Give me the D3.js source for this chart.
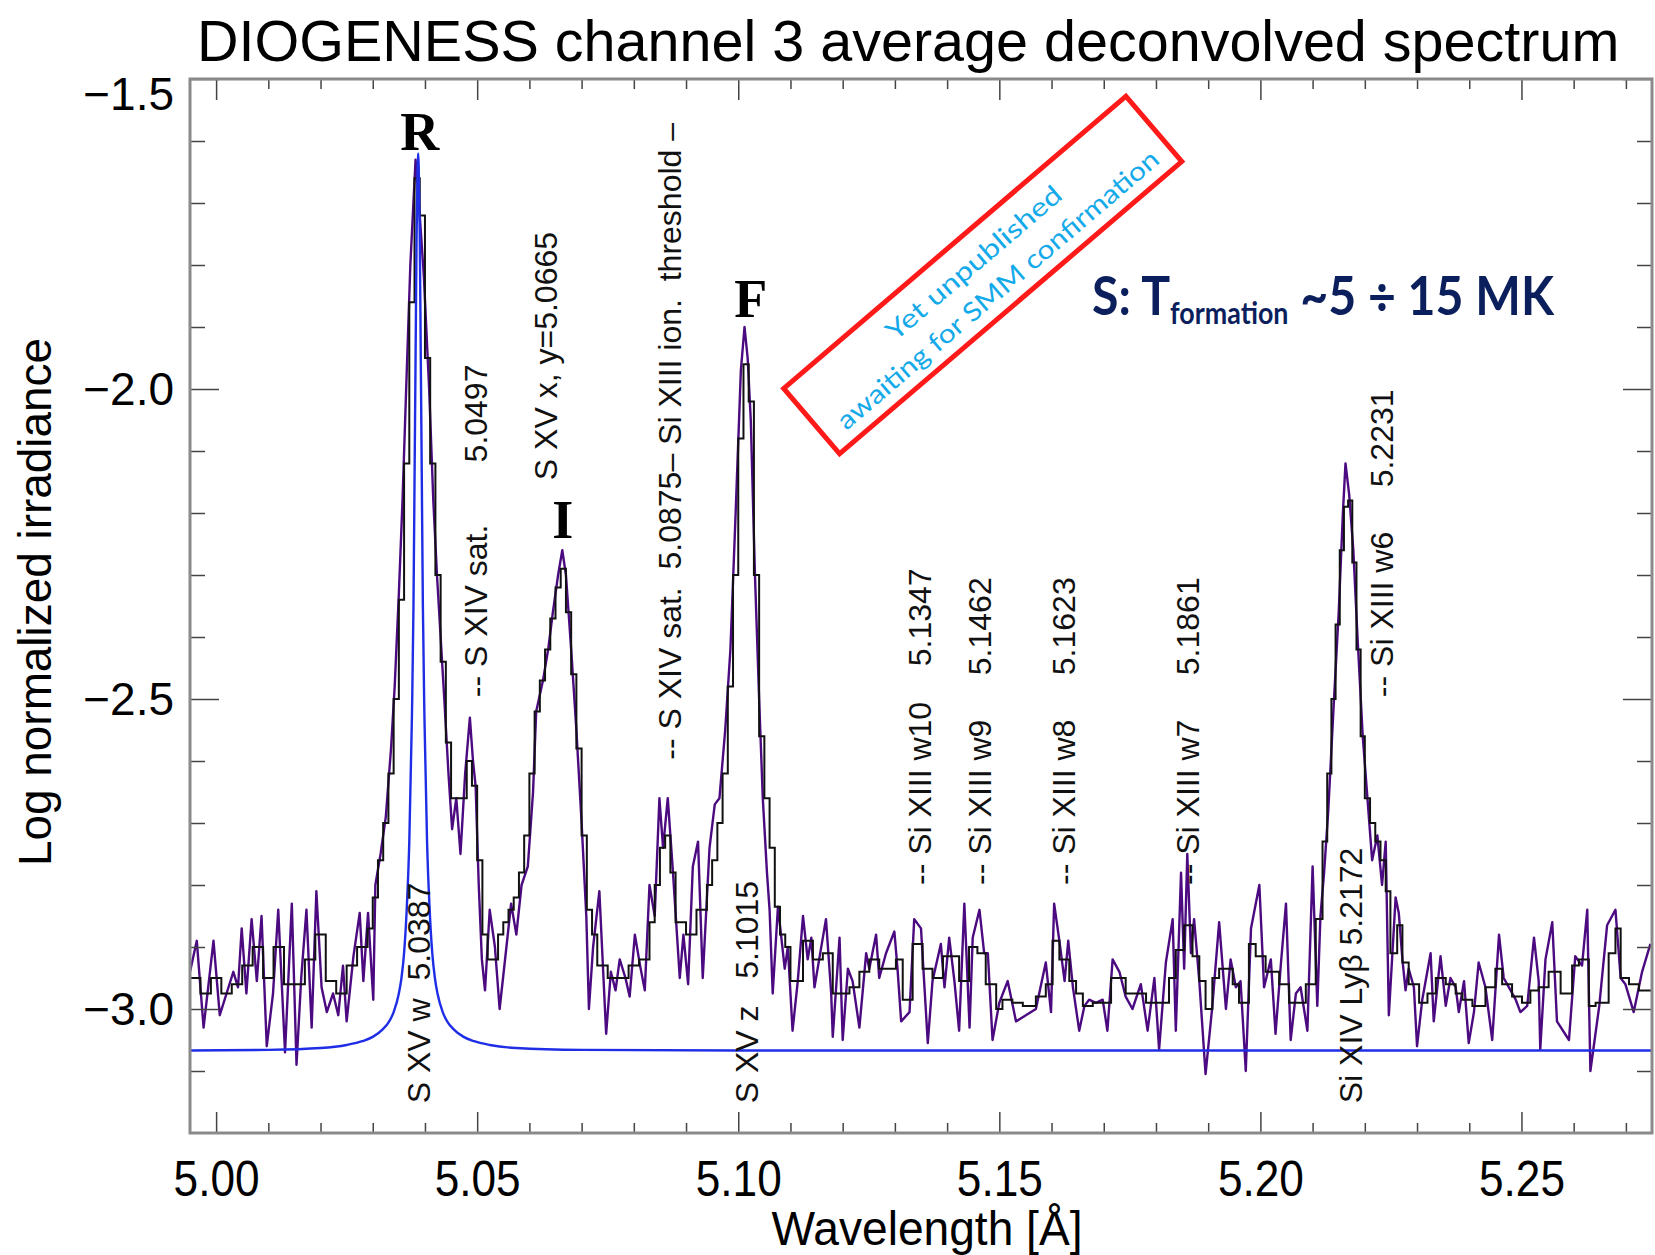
<!DOCTYPE html>
<html><head><meta charset="utf-8">
<script src="https://cdn.jsdelivr.net/npm/d3@7"></script>
<style>
body{margin:0;background:#fff}
svg{display:block}
</style>
</head><body>
<svg id="c" width="1655" height="1255" font-family="Liberation Sans, Arial, Helvetica, sans-serif"></svg>
<script>
// ---------------- data ----------------
const chartTitle = "DIOGENESS channel 3 average deconvolved spectrum";
const xAxisTitle = "Wavelength [Å]";
const yAxisTitle = "Log normalized irradiance";
const xDomain = [4.995, 5.275];
const yDomain = [-3.2, -1.5];
const xTicks = [5.00, 5.05, 5.10, 5.15, 5.20, 5.25];
const xTickLabels = ["5.00", "5.05", "5.10", "5.15", "5.20", "5.25"];
const yTicks = [-3.0, -2.5, -2.0, -1.5];
const yTickLabels = ["\u22123.0", "\u22122.5", "\u22122.0", "\u22121.5"];

// purple: high-resolution deconvolved spectrum [wavelength Å, log irradiance]
const purpleSpectrum = [
[4.9950,-2.94],[4.9963,-2.89],[4.9976,-3.03],[4.9995,-2.89],[5.0007,-3.01],[5.0020,-2.975],[5.0033,-2.94],[5.0042,-2.965],[5.0049,-2.87],[5.0058,-2.975],
[5.0068,-2.855],[5.0078,-2.955],[5.0087,-2.85],[5.0097,-3.06],[5.0109,-2.975],[5.0119,-2.84],[5.0132,-3.07],[5.0145,-2.83],[5.0154,-3.09],[5.0163,-2.95],
[5.0173,-2.84],[5.0183,-3.03],[5.0192,-2.81],[5.0202,-2.965],[5.0212,-3.005],[5.0224,-2.975],[5.0234,-3.01],[5.0243,-2.93],[5.0250,-3.02],[5.0263,-2.915],
[5.0275,-2.845],[5.0282,-2.955],[5.0291,-2.845],[5.0301,-2.985],[5.0305,-2.80],[5.0315,-2.75],[5.0325,-2.69],[5.0335,-2.58],[5.0342,-2.48],[5.0350,-2.33],
[5.0357,-2.18],[5.0364,-2.00],[5.0372,-1.80],[5.0382,-1.63],[5.0390,-1.72],[5.0398,-1.82],[5.0408,-2.00],[5.0416,-2.18],[5.0423,-2.30],[5.0437,-2.50],
[5.0445,-2.62],[5.0452,-2.71],[5.0460,-2.66],[5.0468,-2.75],[5.0477,-2.62],[5.0486,-2.53],[5.0492,-2.60],[5.0497,-2.64],[5.0503,-2.80],[5.0509,-2.92],
[5.0515,-2.97],[5.0524,-2.84],[5.0534,-2.90],[5.0543,-3.00],[5.0556,-2.90],[5.0565,-2.83],[5.0575,-2.88],[5.0585,-2.80],[5.0597,-2.77],[5.0607,-2.65],
[5.0613,-2.52],[5.0626,-2.47],[5.0636,-2.42],[5.0645,-2.36],[5.0655,-2.30],[5.0663,-2.26],[5.0670,-2.30],[5.0680,-2.42],[5.0690,-2.55],[5.0700,-2.70],
[5.0709,-2.85],[5.0714,-3.00],[5.0722,-2.90],[5.0734,-2.81],[5.0747,-3.04],[5.0756,-2.94],[5.0765,-2.97],[5.0773,-2.92],[5.0784,-2.95],[5.0792,-2.98],
[5.0802,-2.88],[5.0812,-2.93],[5.0821,-2.97],[5.0830,-2.80],[5.0840,-2.85],[5.0849,-2.66],[5.0856,-2.74],[5.0865,-2.66],[5.0875,-2.78],[5.0888,-2.95],
[5.0895,-2.88],[5.0904,-2.96],[5.0913,-2.77],[5.0923,-2.73],[5.0932,-2.95],[5.0945,-2.74],[5.0955,-2.67],[5.0964,-2.66],[5.0975,-2.55],[5.0985,-2.42],
[5.0995,-2.20],[5.1005,-1.97],[5.1012,-1.90],[5.1018,-1.95],[5.1024,-2.05],[5.1032,-2.30],[5.1040,-2.50],[5.1047,-2.66],[5.1055,-2.78],[5.1060,-2.84],
[5.1066,-2.975],[5.1076,-2.835],[5.1089,-2.935],[5.1095,-2.90],[5.1104,-3.035],[5.1114,-2.955],[5.1124,-2.85],[5.1133,-2.92],[5.1140,-2.885],[5.1146,-2.965],
[5.1155,-2.92],[5.1168,-2.855],[5.1178,-2.975],[5.1181,-3.045],[5.1194,-2.885],[5.1200,-3.05],[5.1210,-2.935],[5.1219,-2.955],[5.1232,-3.03],[5.1245,-2.91],
[5.1251,-2.935],[5.1264,-2.88],[5.1270,-2.95],[5.1283,-2.91],[5.1299,-2.875],[5.1305,-2.935],[5.1312,-3.02],[5.1328,-3.005],[5.1337,-2.855],[5.1350,-2.87],
[5.1363,-3.055],[5.1372,-2.955],[5.1388,-2.895],[5.1395,-2.965],[5.1404,-2.885],[5.1414,-2.955],[5.1423,-3.035],[5.1433,-2.83],[5.1443,-3.03],[5.1449,-2.885],
[5.1462,-2.84],[5.1471,-2.91],[5.1478,-2.91],[5.1487,-3.05],[5.1500,-2.99],[5.1516,-2.955],[5.1532,-3.02],[5.1570,-3.00],[5.1589,-2.925],[5.1599,-3.005],
[5.1605,-2.83],[5.1615,-2.89],[5.1625,-2.955],[5.1632,-2.89],[5.1641,-2.965],[5.1653,-3.035],[5.1663,-2.995],[5.1672,-2.985],[5.1685,-2.99],[5.1698,-2.985],
[5.1707,-3.035],[5.1717,-2.92],[5.1730,-2.94],[5.1742,-2.98],[5.1755,-3.00],[5.1771,-2.96],[5.1784,-3.035],[5.1797,-2.95],[5.1806,-3.065],[5.1819,-2.925],
[5.1832,-2.855],[5.1838,-3.035],[5.1848,-2.78],[5.1854,-2.935],[5.1860,-2.75],[5.1867,-2.91],[5.1873,-2.855],[5.1883,-2.955],[5.1895,-3.105],[5.1908,-2.995],
[5.1921,-2.86],[5.1934,-3.00],[5.1943,-2.92],[5.1953,-2.965],[5.1962,-2.955],[5.1972,-3.10],[5.1982,-2.87],[5.1998,-2.80],[5.2007,-2.965],[5.2020,-2.92],
[5.2029,-3.04],[5.2039,-2.93],[5.2049,-2.83],[5.2058,-3.05],[5.2068,-2.975],[5.2077,-2.965],[5.2090,-3.035],[5.2100,-2.77],[5.2109,-2.995],[5.2115,-2.85],
[5.2122,-2.78],[5.2130,-2.68],[5.2141,-2.50],[5.2150,-2.36],[5.2158,-2.20],[5.2163,-2.12],[5.2170,-2.17],[5.2178,-2.26],[5.2186,-2.40],[5.2196,-2.56],
[5.2205,-2.66],[5.2214,-2.76],[5.2224,-2.72],[5.2233,-2.80],[5.2240,-2.73],[5.2246,-3.01],[5.2259,-2.82],[5.2265,-2.845],[5.2272,-2.92],[5.2278,-2.97],
[5.2284,-2.935],[5.2294,-2.965],[5.2300,-3.06],[5.2310,-2.985],[5.2326,-2.91],[5.2332,-3.02],[5.2345,-2.915],[5.2355,-2.995],[5.2364,-2.95],[5.2374,-2.965],
[5.2380,-3.005],[5.2390,-2.955],[5.2399,-3.055],[5.2409,-3.005],[5.2418,-2.925],[5.2431,-2.965],[5.2444,-3.05],[5.2457,-2.88],[5.2466,-2.95],[5.2476,-2.965],
[5.2489,-2.985],[5.2498,-3.005],[5.2511,-2.995],[5.2524,-2.885],[5.2533,-2.955],[5.2536,-3.065],[5.2546,-2.92],[5.2559,-2.86],[5.2568,-3.02],[5.2591,-3.05],
[5.2603,-2.915],[5.2616,-2.93],[5.2626,-2.84],[5.2632,-3.10],[5.2649,-2.995],[5.2664,-2.865],[5.2680,-2.84],[5.2690,-2.95],[5.2699,-2.96],[5.2715,-3.005],
[5.2731,-2.94],[5.2747,-2.895]
];

// black: binned average spectrum, [bin start wavelength, log irradiance]
const binnedSpectrum = [
[4.995,-2.95],[4.997,-2.975],[4.999,-2.95],[5.001,-2.975],[5.003,-2.96],[5.005,-2.93],[5.007,-2.90],[5.009,-2.95],[5.011,-2.90],[5.013,-2.96],
[5.015,-2.96],[5.017,-2.92],[5.019,-2.88],[5.021,-2.955],[5.023,-2.975],[5.025,-2.93],[5.027,-2.90],[5.029,-2.87],[5.030,-2.82],[5.031,-2.76],
[5.032,-2.70],[5.033,-2.62],[5.034,-2.50],[5.035,-2.34],[5.036,-2.12],[5.037,-1.86],[5.038,-1.66],[5.039,-1.72],[5.040,-1.95],[5.041,-2.12],
[5.042,-2.30],[5.043,-2.44],[5.044,-2.57],[5.045,-2.66],[5.047,-2.66],[5.048,-2.60],[5.049,-2.64],[5.050,-2.76],[5.051,-2.88],[5.052,-2.92],
[5.054,-2.88],[5.055,-2.86],[5.056,-2.84],[5.057,-2.82],[5.058,-2.78],[5.059,-2.72],[5.060,-2.62],[5.061,-2.52],[5.062,-2.47],[5.063,-2.42],
[5.064,-2.37],[5.065,-2.32],[5.066,-2.29],[5.067,-2.36],[5.068,-2.46],[5.069,-2.58],[5.070,-2.72],[5.071,-2.84],[5.072,-2.88],[5.073,-2.93],
[5.075,-2.95],[5.077,-2.95],[5.079,-2.93],[5.081,-2.92],[5.083,-2.86],[5.084,-2.80],[5.085,-2.74],[5.086,-2.72],[5.087,-2.78],[5.088,-2.86],
[5.090,-2.88],[5.092,-2.84],[5.094,-2.80],[5.095,-2.76],[5.096,-2.70],[5.097,-2.62],[5.098,-2.48],[5.099,-2.30],[5.100,-2.08],[5.101,-1.96],
[5.102,-2.02],[5.103,-2.30],[5.104,-2.56],[5.105,-2.66],[5.106,-2.74],[5.107,-2.835],[5.108,-2.88],[5.109,-2.90],[5.110,-2.955],[5.1124,-2.89],
[5.1143,-2.92],[5.1162,-2.91],[5.1181,-2.975],[5.1213,-2.965],[5.1232,-2.94],[5.1251,-2.92],[5.1270,-2.935],[5.1302,-2.92],[5.1315,-2.985],[5.1334,-2.895],
[5.1353,-2.935],[5.1372,-2.95],[5.1392,-2.915],[5.1423,-2.955],[5.1442,-2.90],[5.1458,-2.91],[5.1474,-2.96],[5.1494,-3.00],[5.1506,-2.985],[5.1525,-2.99],
[5.1545,-2.995],[5.1570,-2.98],[5.1589,-2.96],[5.1602,-2.89],[5.1615,-2.92],[5.1634,-2.955],[5.1647,-2.975],[5.1660,-2.995],[5.1679,-2.99],[5.1714,-2.95],
[5.1742,-2.975],[5.1781,-2.99],[5.1825,-2.95],[5.1838,-2.905],[5.1854,-2.865],[5.1870,-2.915],[5.1883,-2.955],[5.1895,-3.00],[5.1908,-2.95],[5.1921,-2.935],
[5.1947,-2.96],[5.1959,-2.99],[5.1978,-2.895],[5.1991,-2.915],[5.2010,-2.94],[5.2036,-2.96],[5.2055,-2.99],[5.2087,-2.96],[5.2106,-2.855],[5.2119,-2.73],
[5.2128,-2.62],[5.2136,-2.50],[5.2144,-2.38],[5.2152,-2.26],[5.2160,-2.19],[5.2168,-2.18],[5.2176,-2.28],[5.2184,-2.42],[5.2192,-2.56],[5.2200,-2.66],
[5.2210,-2.70],[5.2220,-2.73],[5.2230,-2.76],[5.2240,-2.81],[5.2249,-2.91],[5.2262,-2.865],[5.2272,-2.925],[5.2284,-2.96],[5.2304,-2.99],[5.2320,-2.975],
[5.2336,-2.95],[5.2355,-2.96],[5.2374,-2.975],[5.2387,-2.985],[5.2406,-2.995],[5.2431,-2.965],[5.2450,-2.935],[5.2463,-2.96],[5.2482,-2.98],[5.2501,-2.99],
[5.2517,-2.97],[5.2533,-2.965],[5.2552,-2.94],[5.2575,-2.975],[5.2597,-2.93],[5.2610,-2.92],[5.2629,-2.995],[5.2642,-2.99],[5.2667,-2.91],[5.2680,-2.87],
[5.2690,-2.95],[5.2706,-2.96],[5.2725,-2.97],[5.2750,-2.97]
];

// blue: S XV w line profile
const lineProfile = [
[4.995,-3.067],[5.010,-3.066],[5.020,-3.063],[5.025,-3.058],[5.028,-3.052],[5.030,-3.045],[5.032,-3.032],[5.033,-3.022],[5.034,-3.005],[5.035,-2.975],
[5.0355,-2.95],[5.036,-2.91],[5.0365,-2.84],[5.037,-2.73],[5.0375,-2.53],[5.0378,-2.35],[5.0380,-2.15],[5.0382,-1.95],[5.0384,-1.75],[5.0386,-1.64],
[5.0387,-1.62],[5.0388,-1.64],[5.0390,-1.75],[5.0392,-1.95],[5.0394,-2.15],[5.0396,-2.35],[5.0399,-2.53],[5.0404,-2.73],[5.0409,-2.84],[5.0414,-2.91],
[5.0419,-2.95],[5.0424,-2.975],[5.0434,-3.005],[5.0444,-3.022],[5.0454,-3.032],[5.0474,-3.045],[5.0494,-3.052],[5.0524,-3.058],[5.0574,-3.063],[5.0700,-3.066],
[5.1000,-3.067],[5.2750,-3.067]
];

// rotated line identifications: wavelength position, bottom anchor (log units), text
const lineLabels = [
{w:5.0387, v:-3.152, text:"S XV w  5.0387"},
{w:5.0497, v:-2.497, text:"-- S XIV sat.       5.0497"},
{w:5.0630, v:-2.147, text:"S XV x, y=5.0665"},
{w:5.0868, v:-2.598, text:"-- S XIV sat.  5.0875\u2013 Si XIII ion.  threshold \u2013"},
{w:5.1015, v:-3.152, text:"S XV z   5.1015"},
{w:5.1347, v:-2.800, text:"-- Si XIII w10    5.1347"},
{w:5.1462, v:-2.800, text:"-- Si XIII w9     5.1462"},
{w:5.1623, v:-2.800, text:"-- Si XIII w8     5.1623"},
{w:5.1861, v:-2.800, text:"-- Si XIII w7     5.1861"},
{w:5.2172, v:-3.152, text:"Si XIV Ly\u03b2 5.2172"},
{w:5.2231, v:-2.497, text:"-- Si XIII w6     5.2231"}
];
const peakLetters = [
{w:5.0390, v:-1.615, text:"R"},
{w:5.0664, v:-2.240, text:"I"},
{w:5.1024, v:-1.884, text:"F"}
];
const stampLines = ["Yet unpublished", "awaiting for SMM confirmation"];

// ---------------- drawing ----------------
const M = {l:190, r:1652, t:79, b:1133};
const SANS = "Liberation Sans, Arial, Helvetica, sans-serif";
const svg = d3.select("#c");
const x = d3.scaleLinear().domain(xDomain).range([M.l, M.r]);
const y = d3.scaleLinear().domain(yDomain).range([M.b, M.t]);

svg.append("defs").append("clipPath").attr("id","clip")
  .append("rect").attr("x",M.l).attr("y",M.t).attr("width",M.r-M.l).attr("height",M.b-M.t);

// title
svg.append("text").attr("x",197).attr("y",61).attr("font-size",57.5)
  .attr("fill","#000").text(chartTitle);

// data
const plot = svg.append("g").attr("clip-path","url(#clip)");
plot.append("path").datum(purpleSpectrum)
  .attr("d", d3.line().x(d=>x(d[0])).y(d=>y(d[1])))
  .attr("fill","none").attr("stroke","#4c0a80").attr("stroke-width",2.4).attr("stroke-linejoin","round");
plot.append("path").datum(binnedSpectrum)
  .attr("d", d3.line().x(d=>x(d[0])).y(d=>y(d[1])).curve(d3.curveStepAfter))
  .attr("fill","none").attr("stroke","#111").attr("stroke-width",2);
plot.append("path").datum(lineProfile)
  .attr("d", d3.line().x(d=>x(d[0])).y(d=>y(d[1])).curve(d3.curveMonotoneX))
  .attr("fill","none").attr("stroke","#1f2ee6").attr("stroke-width",2.4);

// axes
const minorX = d3.range(5.00, 5.2751, 0.01).map(v=>+v.toFixed(2)).filter(v=>!xTicks.some(t=>Math.abs(t-v)<1e-6));
const minorY = d3.range(-3.1, -1.55, 0.1).map(v=>+v.toFixed(1)).filter(v=>!yTicks.some(t=>Math.abs(t-v)<1e-6));
function styleAxis(g){
  g.select(".domain").remove();
  g.selectAll(".tick line").attr("stroke","#444").attr("stroke-width",1.5);
}
const ax = (gen, tr) => svg.append("g").attr("transform",tr).call(gen).call(styleAxis);
// bottom
const bot = ax(d3.axisBottom(x).tickValues(xTicks).tickSizeInner(-21).tickSizeOuter(0).tickPadding(27)
  .tickFormat((d,i)=>xTickLabels[i]), `translate(0,${M.b})`);
bot.selectAll("text").attr("font-size",50).attr("font-family",SANS).attr("fill","#000")
  .attr("textLength",86).attr("lengthAdjust","spacingAndGlyphs");
ax(d3.axisBottom(x).tickValues(minorX).tickSizeInner(-10).tickSizeOuter(0).tickFormat(""), `translate(0,${M.b})`);
// top
ax(d3.axisTop(x).tickValues(xTicks).tickSizeInner(-21).tickSizeOuter(0).tickFormat(""), `translate(0,${M.t})`);
ax(d3.axisTop(x).tickValues(minorX).tickSizeInner(-10).tickSizeOuter(0).tickFormat(""), `translate(0,${M.t})`);
// left
const left = ax(d3.axisLeft(y).tickValues(yTicks).tickSizeInner(-29).tickSizeOuter(0).tickPadding(16)
  .tickFormat((d,i)=>yTickLabels[i]), `translate(${M.l},0)`);
left.selectAll("text").attr("font-size",46).attr("font-family",SANS).attr("fill","#000")
  .attr("dy", d => d === -1.5 ? "0.66em" : "0.34em");
ax(d3.axisLeft(y).tickValues(minorY).tickSizeInner(-15).tickSizeOuter(0).tickFormat(""), `translate(${M.l},0)`);
// right
ax(d3.axisRight(y).tickValues(yTicks).tickSizeInner(-29).tickSizeOuter(0).tickFormat(""), `translate(${M.r},0)`);
ax(d3.axisRight(y).tickValues(minorY).tickSizeInner(-15).tickSizeOuter(0).tickFormat(""), `translate(${M.r},0)`);

// frame
svg.append("rect").attr("x",M.l).attr("y",M.t).attr("width",M.r-M.l).attr("height",M.b-M.t)
  .attr("fill","none").attr("stroke","#8a8a8a").attr("stroke-width",3);

// axis titles
svg.append("text").attr("x",927).attr("y",1245).attr("text-anchor","middle").attr("font-size",49)
  .attr("textLength",311).attr("lengthAdjust","spacingAndGlyphs").text(xAxisTitle);
svg.append("text").attr("transform","translate(51,602) rotate(-90)").attr("text-anchor","middle")
  .attr("font-size",47).attr("textLength",528).attr("lengthAdjust","spacingAndGlyphs").text(yAxisTitle);

// rotated line labels
const FS = 32;
svg.append("g").selectAll("text").data(lineLabels).join("text")
  .attr("transform", d => `translate(${x(d.w) + FS*0.36},${y(d.v)}) rotate(-90)`)
  .attr("font-size", FS).attr("fill","#111").style("white-space","pre")
  .text(d => d.text);

// peak letters
svg.append("g").selectAll("text").data(peakLetters).join("text")
  .attr("x", d => x(d.w)).attr("y", d => y(d.v)).attr("text-anchor","middle")
  .style("font-family","'Liberation Serif', 'Times New Roman', serif").attr("font-weight","bold")
  .attr("font-size",54).attr("fill","#000").text(d => d.text);

// red stamp box
const stamp = svg.append("g").attr("transform","translate(982.75,275) rotate(-40.5)");
stamp.append("rect").attr("x",-225).attr("y",-43).attr("width",450).attr("height",86)
  .attr("fill","none").attr("stroke","#ff1a1a").attr("stroke-width",5);
stamp.selectAll("text").data(stampLines).join("text")
  .attr("x",(d,i)=> i===0 ? 1 : 2).attr("y",(d,i)=> i===0 ? -6 : 30)
  .attr("text-anchor","middle").style("font-family","Lato, 'Open Sans', sans-serif")
  .attr("font-size",26).attr("fill","#14aaea")
  .attr("textLength",(d,i)=> i===0 ? 222 : 414).attr("lengthAdjust","spacingAndGlyphs")
  .text(d => d);

// S: T_formation annotation (one text, subscript via tspan)
const note = svg.append("text").attr("x",1092).attr("y",315)
  .style("font-family","Lato, 'Open Sans', sans-serif").attr("font-weight","bold").attr("fill","#0b1f5c")
  .attr("textLength",462).attr("lengthAdjust","spacingAndGlyphs");
note.append("tspan").attr("font-size",54).text("S: T");
note.append("tspan").attr("font-size",30).attr("dy",9).text("formation");
note.append("tspan").attr("font-size",54).attr("dy",-9).text(" ~5 \u00f7 15 MK");
</script>
</body></html>
